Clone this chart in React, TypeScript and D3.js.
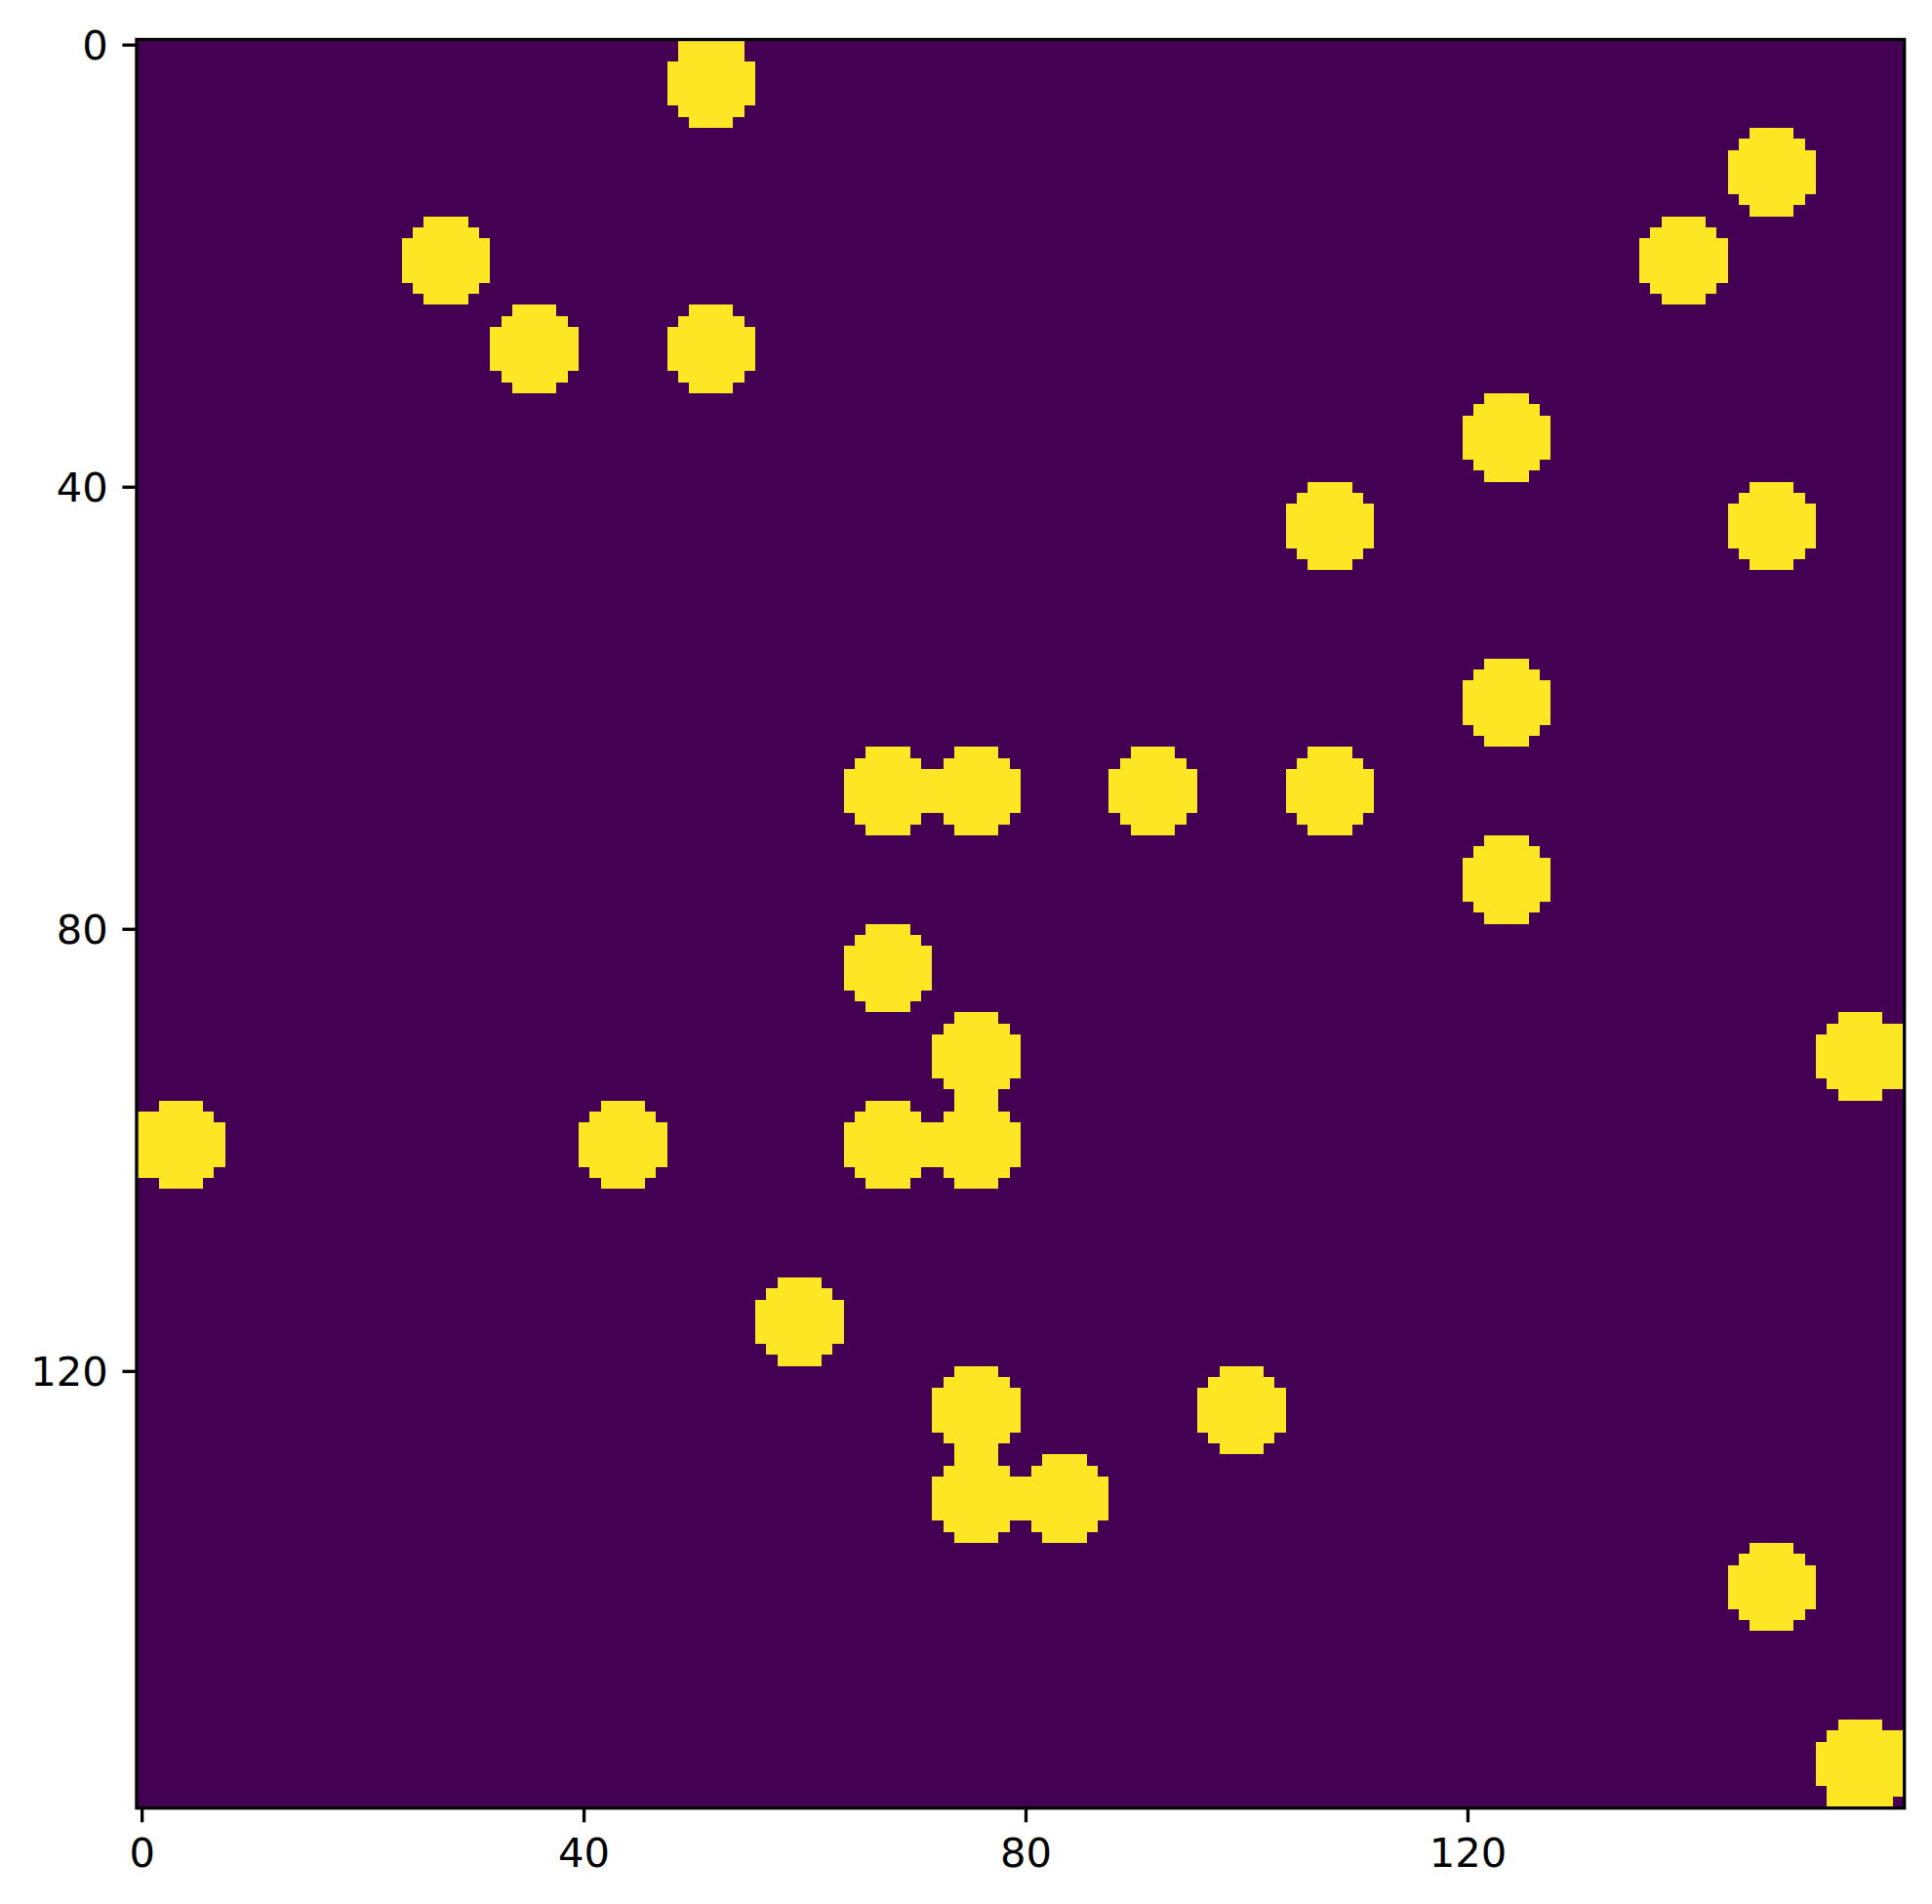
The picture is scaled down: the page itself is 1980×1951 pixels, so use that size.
import { useMemo } from 'react';
import * as d3 from 'd3';

// 160x160 binary image: yellow dots (radius 4 px) on a dark background
const IMG_SIZE = 160;
const DOT_RADIUS = 4;

// dot centres, in image pixel units (corner coordinates)
const DOT_X = [52, 148, 28, 140, 36, 52, 124, 108, 148, 124, 68, 76, 92, 108, 124, 68, 76, 156, 4, 44, 68, 76, 60, 76, 100, 76, 84, 148, 156];
const DOT_Y = [4, 12, 20, 20, 28, 28, 36, 44, 44, 60, 68, 68, 68, 68, 76, 84, 92, 92, 100, 100, 100, 100, 116, 124, 124, 132, 132, 140, 156];

const X_TICKS = [0, 40, 80, 120];
const Y_TICKS = [0, 40, 80, 120];

const LOW = '#440154';
const HIGH = '#fde725';

const WIDTH = 1980;
const HEIGHT = 1951;
const AX = { left: 140, top: 40.5, right: 1951.7, bottom: 1852.7 };
const FONT = 41.67;
const TICK = 14.6;

const buildMask = () => {
  const raw: boolean[][] = [];
  for (let r = 0; r < IMG_SIZE; r++) {
    const row: boolean[] = [];
    for (let c = 0; c < IMG_SIZE; c++) {
      let on = false;
      for (let k = 0; k < DOT_X.length; k++) {
        const dx = c + 0.5 - DOT_X[k];
        const dy = r + 0.5 - DOT_Y[k];
        if (dx * dx + dy * dy <= DOT_RADIUS * DOT_RADIUS) {
          on = true;
          break;
        }
      }
      row.push(on);
    }
    raw.push(row);
  }
  // border pixels pick up their inner neighbour (reflected boundary)
  const last = IMG_SIZE - 1;
  return raw.map((row, r) =>
    row.map((v, c) => {
      if (v) return true;
      if (r === 0 && raw[1][c]) return true;
      if (r === last && raw[last - 1][c]) return true;
      if (c === 0 && raw[r][1]) return true;
      if (c === last && raw[r][last - 1]) return true;
      return false;
    })
  );
};

export default function App() {
  const xScale = useMemo(() => d3.scaleLinear().domain([-0.5, IMG_SIZE - 0.5]).range([AX.left, AX.right]), []);
  const yScale = useMemo(() => d3.scaleLinear().domain([-0.5, IMG_SIZE - 0.5]).range([AX.top, AX.bottom]), []);

  const runs = useMemo(() => {
    const mask = buildMask();
    const out: { r: number; c0: number; c1: number }[] = [];
    mask.forEach((row, r) => {
      let start = -1;
      for (let c = 0; c <= IMG_SIZE; c++) {
        const v = c < IMG_SIZE && row[c];
        if (v && start < 0) start = c;
        if (!v && start >= 0) {
          out.push({ r, c0: start, c1: c - 1 });
          start = -1;
        }
      }
    });
    return out;
  }, []);

  const cells = runs.map((d, i) => {
    const x0 = xScale(d.c0 - 0.5);
    const x1 = xScale(d.c1 + 0.5);
    const y0 = yScale(d.r - 0.5);
    const y1 = yScale(d.r + 0.5);
    return <rect key={i} x={x0} y={y0} width={x1 - x0} height={y1 - y0} fill={HIGH} />;
  });

  const xTicks = X_TICKS.map((t) => (
    <g key={'x' + t}>
      <line x1={xScale(t)} x2={xScale(t)} y1={AX.bottom} y2={AX.bottom + TICK} stroke="black" strokeWidth={3.33} />
      <text x={xScale(t)} y={AX.bottom + 2 * TICK + 31.5} textAnchor="middle" fontSize={FONT}>
        {t}
      </text>
    </g>
  ));

  const yTicks = Y_TICKS.map((t) => (
    <g key={'y' + t}>
      <line x1={AX.left - TICK} x2={AX.left} y1={yScale(t)} y2={yScale(t)} stroke="black" strokeWidth={3.33} />
      <text x={AX.left - 2 * TICK} y={yScale(t) + 15} textAnchor="end" fontSize={FONT}>
        {t}
      </text>
    </g>
  ));

  return (
    <svg
      width={WIDTH}
      height={HEIGHT}
      style={{ position: 'absolute', left: 0, top: 0, background: 'white' }}
      fontFamily="DejaVu Sans"
    >
      <g shapeRendering="crispEdges">
        <rect x={AX.left} y={AX.top} width={AX.right - AX.left} height={AX.bottom - AX.top} fill={LOW} />
        {cells}
      </g>
      <rect
        x={AX.left}
        y={AX.top}
        width={AX.right - AX.left}
        height={AX.bottom - AX.top}
        fill="none"
        stroke="black"
        strokeWidth={3.33}
      />
      {xTicks}
      {yTicks}
    </svg>
  );
}
